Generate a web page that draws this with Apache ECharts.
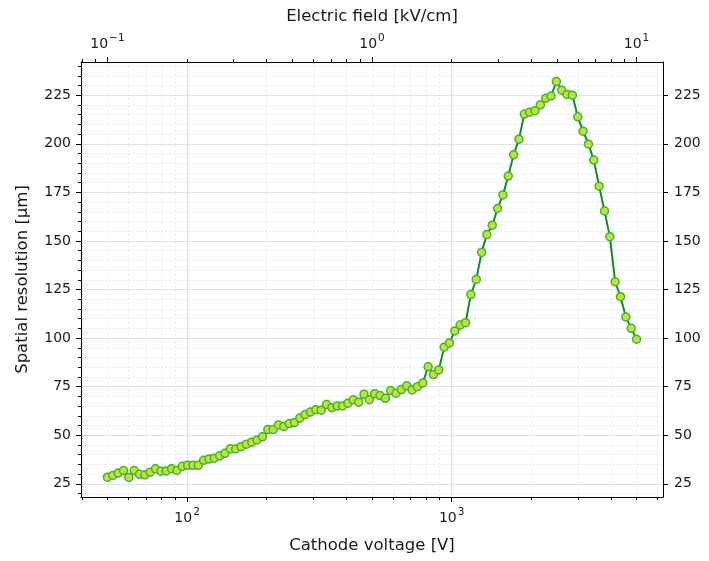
<!DOCTYPE html>
<html><head><meta charset="utf-8">
<script src="https://cdn.jsdelivr.net/npm/echarts@6/dist/echarts.min.js"></script>
<style>html,body{margin:0;padding:0;background:#fff}#chart{width:709px;height:561px}</style>
</head><body><div id="chart"></div>
<script>
// ---- data ----
const voltage = [50, 52.38, 54.87, 57.49, 60.22, 63.09, 66.09, 69.24, 72.54, 75.99,
  79.61, 83.40, 87.37, 91.53, 95.89, 100.5, 105.2, 110.3, 115.5, 121.0,
  126.8, 132.8, 139.1, 145.7, 152.7, 160.0, 167.6, 175.6, 183.9, 192.7,
  201.9, 211.5, 221.5, 232.1, 243.1, 254.7, 266.8, 279.5, 292.8, 306.8,
  321.4, 336.7, 352.7, 369.5, 387.1, 405.6, 424.9, 445.1, 466.3, 488.5,
  511.8, 536.1, 561.7, 588.4, 616.4, 645.8, 676.5, 708.7, 742.5, 777.8,
  814.9, 853.7, 894.3, 936.9, 981.5, 1028, 1077, 1129, 1182, 1239,
  1298, 1359, 1424, 1492, 1563, 1637, 1715, 1797, 1883, 1972,
  2066, 2165, 2268, 2376, 2489, 2607, 2731, 2861, 2998, 3140,
  3290, 3446, 3611, 3783, 3963, 4151, 4349, 4556, 4773, 5000];
const resolution = [28.4, 29.3, 30.5, 31.8, 28.3, 31.8, 29.9, 29.6, 31.0, 32.7,
  31.5, 31.6, 32.8, 31.9, 34.0, 34.5, 34.5, 34.5, 37.1, 37.7,
  38.2, 39.4, 40.7, 43.0, 42.9, 44.1, 45.4, 46.4, 47.6, 49.2,
  52.9, 52.9, 55.3, 54.5, 56.0, 56.6, 58.8, 60.7, 62.0, 63.1,
  62.9, 65.8, 64.2, 65.0, 65.1, 66.5, 68.2, 67.0, 71.1, 68.3,
  71.4, 70.4, 69.0, 73.0, 71.6, 73.5, 75.4, 73.3, 75.0, 76.9,
  85.2, 81.2, 83.6, 95.3, 97.5, 103.7, 106.7, 107.9, 122.4, 130.2,
  144.1, 153.3, 158.1, 166.7, 173.7, 183.4, 194.3, 202.4, 215.3, 216.3,
  217.0, 220.0, 223.5, 224.6, 232.0, 227.6, 225.4, 225.0, 213.9, 206.5,
  199.8, 191.6, 178.2, 165.4, 152.2, 129.0, 121.3, 110.9, 105.0, 99.4];

// ---- axes / ticks ----
const xMin = 39.716, xMax = 6294.6;          // volts
const yMin = 18.2, yMax = 242.1;
const voltsPerKVcm = 500;                    // field [kV/cm] = V / 500
const bottomMajorTicks = [100, 1000];
const bottomMajorExponents = ['2', '3'];
const bottomMinorTicks = [40, 50, 60, 70, 80, 90, 200, 300, 400, 500, 600, 700, 800, 900,
  2000, 3000, 4000, 5000, 6000];
const topMajorTicks = [0.1, 1, 10];
const topMajorExponents = ['−1', '0', '1'];
const topMinorTicks = [0.08, 0.09, 0.2, 0.3, 0.4, 0.5, 0.6, 0.7, 0.8, 0.9, 2, 3, 4, 5, 6, 7, 8, 9];
const yMajorTicks = [25, 50, 75, 100, 125, 150, 175, 200, 225];
const yMinorTicks = [20, 30, 35, 40, 45, 55, 60, 65, 70, 80, 85, 90, 95, 105, 110, 115, 120,
  130, 135, 140, 145, 155, 160, 165, 170, 180, 185, 190, 195, 205, 210, 215, 220, 230, 235, 240];

const FONT = 'DejaVu Sans';
const TXT = '#1a1a1a';
const GRID_MAJOR = '#dde3e8';
const GRID_MINOR = '#e2e6ea';

function powLabel(vals, exps) {
  return function (v) {
    for (let i = 0; i < vals.length; i++) {
      if (Math.abs(v - vals[i]) / vals[i] < 1e-6) return '{b|10}{s|' + exps[i] + '}';
    }
    return '';
  };
}
const powRich = {
  b: { fontFamily: FONT, fontSize: 14, color: TXT, lineHeight: 16, verticalAlign: 'bottom' },
  s: { fontFamily: FONT, fontSize: 10.5, color: TXT, lineHeight: 11, verticalAlign: 'bottom', padding: [0, 0, 7, 1] }
};

const chart = echarts.init(document.getElementById('chart'), null, { renderer: 'canvas' });
const tickLine = { color: '#000', width: 1 };
const nameStyle = { fontFamily: FONT, fontSize: 16.5, color: TXT };

chart.setOption({
  animation: false,
  backgroundColor: '#fff',
  grid: { left: 81, right: 46, top: 62, bottom: 64, containLabel: false },
  xAxis: [
    { // bottom major
      type: 'log', position: 'bottom', min: xMin, max: xMax,
      name: 'Cathode voltage [V]', nameLocation: 'middle', nameGap: 40,
      nameTextStyle: nameStyle,
      axisLine: { show: true, onZero: false, lineStyle: { color: '#000', width: 1 } },
      axisTick: { show: true, length: 5, inside: false, lineStyle: tickLine, customValues: bottomMajorTicks },
      axisLabel: { show: true, margin: 12, customValues: bottomMajorTicks,
        formatter: powLabel(bottomMajorTicks, bottomMajorExponents), rich: powRich },
      splitLine: { show: true, lineStyle: { color: GRID_MAJOR, width: 1 } },
      minorTick: { show: false }, minorSplitLine: { show: false }
    },
    { // bottom minor
      type: 'log', position: 'bottom', min: xMin, max: xMax,
      axisLine: { show: false, onZero: false },
      axisTick: { show: true, length: 3, lineStyle: tickLine, customValues: bottomMinorTicks },
      axisLabel: { show: false },
      splitLine: { show: true, lineStyle: { color: GRID_MINOR, width: 1, type: [1.5, 2.5] } }
    },
    { // top major
      type: 'log', position: 'top', min: xMin / voltsPerKVcm, max: xMax / voltsPerKVcm,
      name: 'Electric field [kV/cm]', nameLocation: 'middle', nameGap: 37,
      nameTextStyle: nameStyle,
      axisLine: { show: true, onZero: false, lineStyle: { color: '#000', width: 1 } },
      axisTick: { show: true, length: 5, lineStyle: tickLine, customValues: topMajorTicks },
      axisLabel: { show: true, margin: 11, customValues: topMajorTicks,
        formatter: powLabel(topMajorTicks, topMajorExponents), rich: powRich },
      splitLine: { show: false }
    },
    { // top minor
      type: 'log', position: 'top', min: xMin / voltsPerKVcm, max: xMax / voltsPerKVcm,
      axisLine: { show: false, onZero: false },
      axisTick: { show: true, length: 3, lineStyle: tickLine, customValues: topMinorTicks },
      axisLabel: { show: false },
      splitLine: { show: false }
    }
  ],
  yAxis: [
    { // left major
      type: 'value', position: 'left', min: yMin, max: yMax,
      name: 'Spatial resolution [µm]', nameLocation: 'middle', nameGap: 50, nameRotate: 90,
      nameTextStyle: nameStyle,
      axisLine: { show: true, onZero: false, lineStyle: { color: '#000', width: 1 } },
      axisTick: { show: true, length: 5, lineStyle: tickLine, customValues: yMajorTicks },
      axisLabel: { show: true, margin: 10, fontFamily: FONT, fontSize: 14, color: TXT,
        customValues: yMajorTicks, formatter: v => String(v) },
      splitLine: { show: true, lineStyle: { color: GRID_MAJOR, width: 1 } }
    },
    { // right major
      type: 'value', position: 'right', min: yMin, max: yMax,
      axisLine: { show: true, onZero: false, lineStyle: { color: '#000', width: 1 } },
      axisTick: { show: true, length: 5, lineStyle: tickLine, customValues: yMajorTicks },
      axisLabel: { show: true, margin: 11, fontFamily: FONT, fontSize: 14, color: TXT,
        customValues: yMajorTicks, formatter: v => String(v) },
      splitLine: { show: false }
    },
    { // left minor
      type: 'value', position: 'left', min: yMin, max: yMax,
      axisLine: { show: false, onZero: false },
      axisTick: { show: true, length: 3, lineStyle: tickLine, customValues: yMinorTicks },
      axisLabel: { show: false },
      splitLine: { show: true, lineStyle: { color: GRID_MINOR, width: 1, type: [1.5, 2.5] } }
    }
  ],
  series: [{
    type: 'line',
    xAxisIndex: 0, yAxisIndex: 0,
    data: voltage.map((v, i) => [v, resolution[i]]),
    symbol: 'circle', symbolSize: 8,
    lineStyle: { color: '#108e2c', width: 2 },
    itemStyle: { color: '#c4e232', borderColor: '#3bb53a', borderWidth: 1.5 },
    z: 5
  }]
});
</script></body></html>
